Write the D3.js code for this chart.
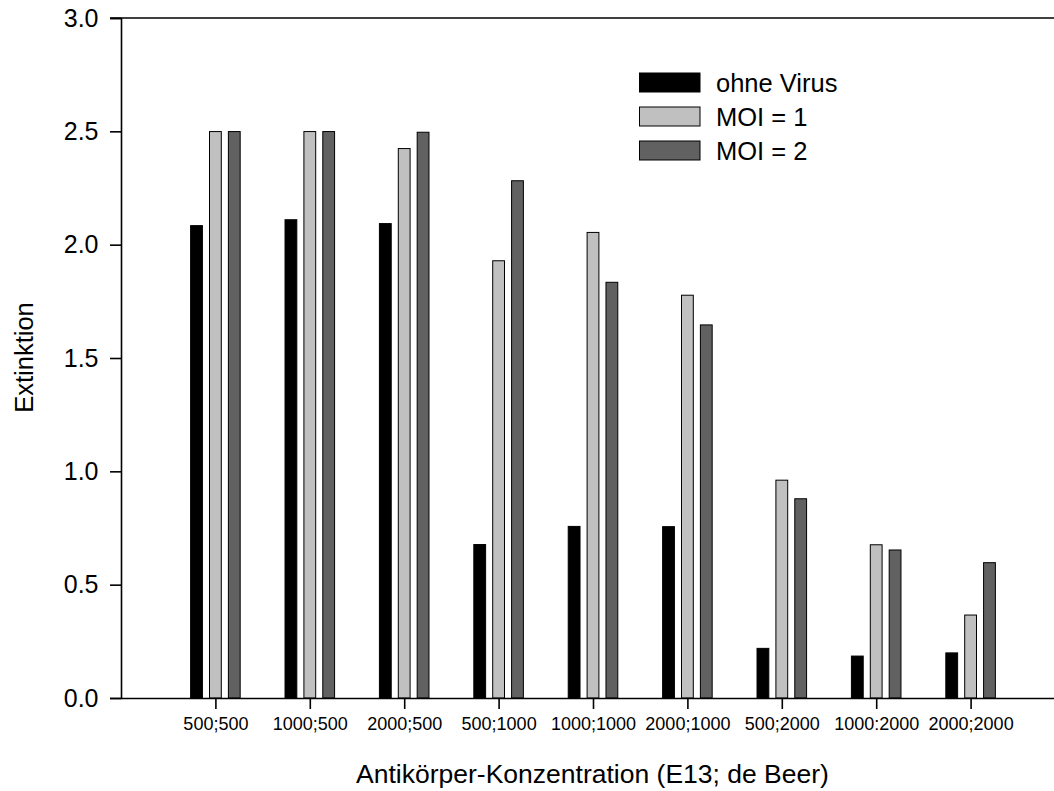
<!DOCTYPE html>
<html>
<head>
<meta charset="utf-8">
<script src="https://cdn.jsdelivr.net/npm/d3@7/dist/d3.min.js"></script>
<style>
  html, body { margin: 0; padding: 0; background: #fff; }
  svg { display: block; font-family: "Liberation Sans", Arial, sans-serif; }
</style>
</head>
<body>
<svg id="chart" width="1054" height="791"></svg>
<script>
const categories = ["500;500", "1000;500", "2000;500", "500;1000", "1000;1000", "2000;1000", "500;2000", "1000:2000", "2000;2000"];
const seriesNames = ["ohne Virus", "MOI = 1", "MOI = 2"];
const ohneVirus = [2.084, 2.110, 2.093, 0.677, 0.757, 0.756, 0.219, 0.185, 0.199];
const moi1 = [2.499, 2.499, 2.424, 1.929, 2.054, 1.777, 0.961, 0.676, 0.366];
const moi2 = [2.499, 2.499, 2.496, 2.282, 1.834, 1.646, 0.879, 0.653, 0.597];
const yTicks = [0.0, 0.5, 1.0, 1.5, 2.0, 2.5, 3.0];
const colors = ["#000000", "#c0c0c0", "#616161"];

const series = [ohneVirus, moi1, moi2];
const FONT = "Liberation Sans, Arial, sans-serif";

const svg = d3.select("#chart");
const mLeft = 121, mTop = 18, mBottom = 698;
const x = d3.scaleLinear().domain([0, 10]).range([mLeft, 1065]);
const y = d3.scaleLinear().domain([0, 3]).range([mBottom, mTop]);

const barW = x(0.125) - x(0);
const offs = [-0.2, 0, 0.2];

// bars
series.forEach((vals, s) => {
  svg.append("g").selectAll("rect").data(vals).join("rect")
    .attr("x", (d, i) => x(i + 1 + offs[s]) - barW / 2)
    .attr("width", barW)
    .attr("y", d => y(d))
    .attr("height", d => y(0) - y(d))
    .attr("fill", colors[s])
    .attr("stroke", "#000")
    .attr("stroke-width", 1);
});

// y axis
const yAxis = d3.axisLeft(y).tickValues(yTicks).tickFormat(d3.format(".1f")).tickSize(11).tickPadding(11.5);
const gy = svg.append("g").attr("transform", `translate(${mLeft},0)`).call(yAxis);
gy.select(".domain").attr("stroke-width", 1.6);
gy.selectAll(".tick line").attr("stroke-width", 1.6);
gy.selectAll(".tick text").attr("font-size", 25).attr("fill", "#000").attr("font-family", FONT);

// x axis
const xAxis = d3.axisBottom(x).tickValues(d3.range(1, categories.length + 1))
  .tickFormat(d => categories[d - 1]).tickSize(11).tickSizeOuter(0).tickPadding(8);
const gx = svg.append("g").attr("transform", `translate(0,${mBottom})`).call(xAxis);
gx.select(".domain").attr("stroke-width", 1.6);
gx.selectAll(".tick line").attr("stroke-width", 1.6);
gx.selectAll(".tick text").attr("font-size", 18).attr("fill", "#000").attr("font-family", FONT);

// top frame line
svg.append("line").attr("x1", 110).attr("x2", x(10)).attr("y1", y(3)).attr("y2", y(3))
  .attr("stroke", "#000").attr("stroke-width", 1.6);

// axis titles
svg.append("text").attr("x", 592.5).attr("y", 783).attr("text-anchor", "middle")
  .attr("font-size", 26.5).text("Antikörper-Konzentration (E13; de Beer)");
svg.append("text").attr("transform", "translate(32.5,357.5) rotate(-90)").attr("text-anchor", "middle")
  .attr("font-size", 25.5).text("Extinktion");

// legend
const lg = svg.append("g");
seriesNames.forEach((n, i) => {
  lg.append("rect").attr("x", 639.5).attr("y", 73 + i * 34).attr("width", 60.5).attr("height", 19)
    .attr("fill", colors[i]).attr("stroke", "#000").attr("stroke-width", 1);
  lg.append("text").attr("x", 716).attr("y", 91.5 + i * 34).attr("font-size", 25.5).text(n);
});
</script>
</body>
</html>
